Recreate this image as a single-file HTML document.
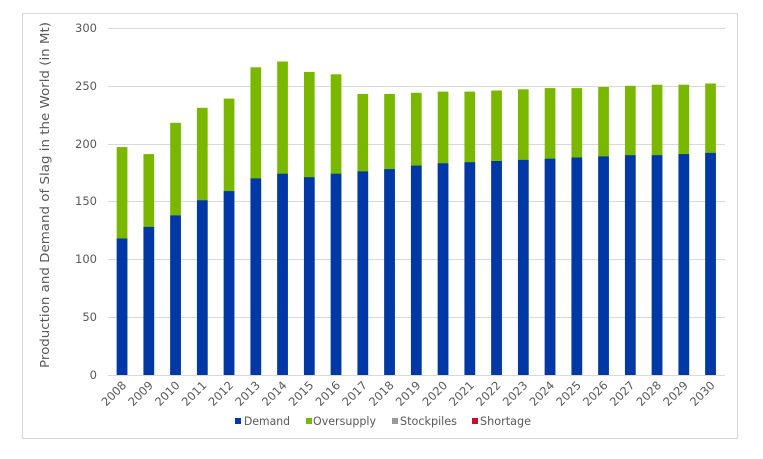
<!DOCTYPE html>
<html><head><meta charset="utf-8"><style>
html,body{margin:0;padding:0;background:#fff;}
svg{display:block;font-family:"DejaVu Sans","Liberation Sans",sans-serif;}
</style></head><body>
<svg width="763" height="459" viewBox="0 0 763 459" xmlns="http://www.w3.org/2000/svg">
<rect x="22.5" y="13.5" width="715" height="425" fill="#fff" stroke="#d9d9d9"/>
<g stroke="#d9d9d9" stroke-width="1">
<line x1="108" x2="725" y1="28.5" y2="28.5"/>
<line x1="108" x2="725" y1="86.5" y2="86.5"/>
<line x1="108" x2="725" y1="144.5" y2="144.5"/>
<line x1="108" x2="725" y1="201.5" y2="201.5"/>
<line x1="108" x2="725" y1="259.5" y2="259.5"/>
<line x1="108" x2="725" y1="317.5" y2="317.5"/>
<line x1="108" x2="725" y1="375.5" y2="375.5"/>
</g>
<g font-size="11.5" fill="#595959" text-anchor="end">
<text x="97" y="32">300</text><text x="97" y="90">250</text><text x="97" y="148">200</text>
<text x="97" y="205">150</text><text x="97" y="263">100</text><text x="97" y="321">50</text><text x="97" y="379">0</text>
</g>
<text transform="translate(49,195) rotate(-90)" font-size="12.5" fill="#595959" text-anchor="middle" textLength="346" lengthAdjust="spacingAndGlyphs">Production and Demand of Slag in the World (in Mt)</text>
<g fill="#7ab800">
<rect x="116.7" y="147.1" width="10.7" height="227.9"/>
<rect x="143.45" y="154.1" width="10.7" height="220.9"/>
<rect x="170.2" y="122.8" width="10.7" height="252.2"/>
<rect x="196.95" y="107.8" width="10.7" height="267.2"/>
<rect x="223.7" y="98.6" width="10.7" height="276.4"/>
<rect x="250.45" y="67.3" width="10.7" height="307.7"/>
<rect x="277.2" y="61.5" width="10.7" height="313.5"/>
<rect x="303.95" y="71.9" width="10.7" height="303.1"/>
<rect x="330.7" y="74.3" width="10.7" height="300.7"/>
<rect x="357.45" y="93.9" width="10.7" height="281.1"/>
<rect x="384.2" y="93.9" width="10.7" height="281.1"/>
<rect x="410.95" y="92.8" width="10.7" height="282.2"/>
<rect x="437.7" y="91.6" width="10.7" height="283.4"/>
<rect x="464.45" y="91.6" width="10.7" height="283.4"/>
<rect x="491.2" y="90.5" width="10.7" height="284.5"/>
<rect x="517.95" y="89.3" width="10.7" height="285.7"/>
<rect x="544.7" y="88.1" width="10.7" height="286.9"/>
<rect x="571.45" y="88.1" width="10.7" height="286.9"/>
<rect x="598.2" y="87" width="10.7" height="288"/>
<rect x="624.95" y="85.8" width="10.7" height="289.2"/>
<rect x="651.7" y="84.7" width="10.7" height="290.3"/>
<rect x="678.45" y="84.7" width="10.7" height="290.3"/>
<rect x="705.2" y="83.5" width="10.7" height="291.5"/>
</g>
<g fill="#0038a8">
<rect x="116.7" y="238.5" width="10.7" height="136.5"/>
<rect x="143.45" y="226.9" width="10.7" height="148.1"/>
<rect x="170.2" y="215.4" width="10.7" height="159.6"/>
<rect x="196.95" y="200.3" width="10.7" height="174.7"/>
<rect x="223.7" y="191.1" width="10.7" height="183.9"/>
<rect x="250.45" y="178.4" width="10.7" height="196.6"/>
<rect x="277.2" y="173.7" width="10.7" height="201.3"/>
<rect x="303.95" y="177.2" width="10.7" height="197.8"/>
<rect x="330.7" y="173.7" width="10.7" height="201.3"/>
<rect x="357.45" y="171.4" width="10.7" height="203.6"/>
<rect x="384.2" y="169.1" width="10.7" height="205.9"/>
<rect x="410.95" y="165.6" width="10.7" height="209.4"/>
<rect x="437.7" y="163.3" width="10.7" height="211.7"/>
<rect x="464.45" y="162.2" width="10.7" height="212.8"/>
<rect x="491.2" y="161" width="10.7" height="214"/>
<rect x="517.95" y="159.9" width="10.7" height="215.1"/>
<rect x="544.7" y="158.7" width="10.7" height="216.3"/>
<rect x="571.45" y="157.5" width="10.7" height="217.5"/>
<rect x="598.2" y="156.4" width="10.7" height="218.6"/>
<rect x="624.95" y="155.2" width="10.7" height="219.8"/>
<rect x="651.7" y="155.2" width="10.7" height="219.8"/>
<rect x="678.45" y="154.1" width="10.7" height="220.9"/>
<rect x="705.2" y="152.9" width="10.7" height="222.1"/>
</g>
<g font-size="11.5" fill="#595959" text-anchor="end">
<text transform="translate(127,386) rotate(-45)">2008</text>
<text transform="translate(153.75,386) rotate(-45)">2009</text>
<text transform="translate(180.5,386) rotate(-45)">2010</text>
<text transform="translate(207.25,386) rotate(-45)">2011</text>
<text transform="translate(234,386) rotate(-45)">2012</text>
<text transform="translate(260.75,386) rotate(-45)">2013</text>
<text transform="translate(287.5,386) rotate(-45)">2014</text>
<text transform="translate(314.25,386) rotate(-45)">2015</text>
<text transform="translate(341,386) rotate(-45)">2016</text>
<text transform="translate(367.75,386) rotate(-45)">2017</text>
<text transform="translate(394.5,386) rotate(-45)">2018</text>
<text transform="translate(421.25,386) rotate(-45)">2019</text>
<text transform="translate(448,386) rotate(-45)">2020</text>
<text transform="translate(474.75,386) rotate(-45)">2021</text>
<text transform="translate(501.5,386) rotate(-45)">2022</text>
<text transform="translate(528.25,386) rotate(-45)">2023</text>
<text transform="translate(555,386) rotate(-45)">2024</text>
<text transform="translate(581.75,386) rotate(-45)">2025</text>
<text transform="translate(608.5,386) rotate(-45)">2026</text>
<text transform="translate(635.25,386) rotate(-45)">2027</text>
<text transform="translate(662,386) rotate(-45)">2028</text>
<text transform="translate(688.75,386) rotate(-45)">2029</text>
<text transform="translate(715.5,386) rotate(-45)">2030</text>
</g>
<g font-size="11.5" fill="#595959">
<rect x="235" y="418" width="6" height="6" fill="#0038a8"/><text x="244" y="425" textLength="46" lengthAdjust="spacingAndGlyphs">Demand</text>
<rect x="306" y="418" width="6" height="6" fill="#7ab800"/><text x="313" y="425" textLength="63" lengthAdjust="spacingAndGlyphs">Oversupply</text>
<rect x="392" y="418" width="6" height="6" fill="#999"/><text x="400" y="425" textLength="57" lengthAdjust="spacingAndGlyphs">Stockpiles</text>
<rect x="472" y="418" width="6" height="6" fill="#c8102e"/><text x="480" y="425" textLength="51" lengthAdjust="spacingAndGlyphs">Shortage</text>
</g>
</svg>
</body></html>
